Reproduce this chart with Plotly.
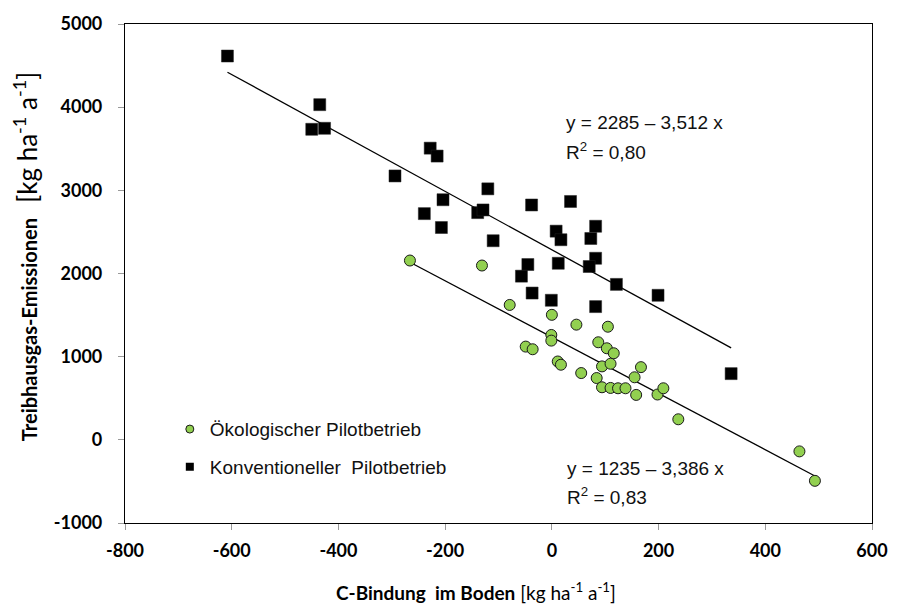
import plotly.graph_objects as go

# ---- data ----
oeko_x = [-266, -131, -79, 0, 46, 105, -49, -36, -1, -1, 87, 103, 116, 11, 17,
          55, 94, 110, 167, 155, 84, 94, 110, 124, 138, 158, 198, 209, 237, 464, 493]
oeko_y = [2156, 2096, 1622, 1503, 1385, 1360, 1121, 1089, 1261, 1193, 1173, 1101, 1041, 942, 903,
          803, 883, 915, 874, 752, 743, 632, 624, 620, 620, 540, 545, 620, 247, -139, -493]

konv_x = [-608, -435, -450, -426, -294, -228, -215, -204, -239, -207,
          -120, -139, -129, -38, 35, -110, 8, 17, 82, 73, 82, 70, -45, -57, 12,
          121, 199, -37, -1, 82, 336]
konv_y = [4615, 4030, 3734, 3746, 3173, 3507, 3412, 2887, 2720, 2553,
          3018, 2732, 2764, 2824, 2866, 2394, 2509, 2406, 2568, 2421, 2183, 2084, 2108, 1968, 2123,
          1869, 1738, 1765, 1678, 1602, 796]

# regression coefficients as printed on the chart (intercept, slope)
oeko_fit = (1235, -3.386)
konv_fit = (2285, -3.512)

series_names = ["Ökologischer Pilotbetrieb", "Konventioneller  Pilotbetrieb"]
eq_texts = [["y = 2285 – 3,512 x", "R<sup>2</sup> = 0,80"],
            ["y = 1235 – 3,386 x", "R<sup>2</sup> = 0,83"]]

x_ticks = [-800, -600, -400, -200, 0, 200, 400, 600]
y_ticks = [-1000, 0, 1000, 2000, 3000, 4000, 5000]

GREEN = "#92D050"
TXT = "Liberation Sans, Arial, sans-serif"
BOLDF = "Liberation Sans Narrow, Arial Narrow, Lato, sans-serif"

fig = go.Figure()

def fit_line(xs, coef):
    xa, xb = min(xs), max(xs)
    return [xa, xb], [coef[0] + coef[1] * xa, coef[0] + coef[1] * xb]

for xs, coef in [(konv_x, konv_fit), (oeko_x, oeko_fit)]:
    lx, ly = fit_line(xs, coef)
    fig.add_trace(go.Scatter(x=lx, y=ly, mode="lines", line=dict(color="black", width=1.3),
                             showlegend=False, hoverinfo="skip"))

fig.add_trace(go.Scatter(x=konv_x, y=konv_y, mode="markers", showlegend=False,
                         marker=dict(symbol="square", size=12, color="black",
                                     line=dict(color="#222", width=0.5))))
fig.add_trace(go.Scatter(x=oeko_x, y=oeko_y, mode="markers", showlegend=False,
                         marker=dict(symbol="circle", size=11, color=GREEN,
                                     line=dict(color="#1a1a1a", width=1))))

# legend entries (small markers)
fig.add_trace(go.Scatter(x=[None], y=[None], mode="markers", name=series_names[0], legendgroup="a",
                         marker=dict(symbol="circle", size=8, color=GREEN,
                                     line=dict(color="#1a1a1a", width=1))))
fig.add_trace(go.Scatter(x=[None], y=[None], mode="markers", name=series_names[1], legendgroup="b",
                         marker=dict(symbol="square", size=8, color="black")))

# equation annotations
eq_pos = [(22, 3820, 3474), (24, -346, -680)]
for (ex, ey1, ey2), (t1, t2) in zip(eq_pos, eq_texts):
    fig.add_annotation(x=ex, y=ey1, text=t1, showarrow=False, xanchor="left", yanchor="middle",
                       font=dict(family=TXT, size=19, color="#111"))
    fig.add_annotation(x=ex, y=ey2, text=t2, showarrow=False, xanchor="left", yanchor="middle",
                       font=dict(family=TXT, size=19, color="#111"))

# axis titles
fig.add_annotation(xref="paper", yref="paper", x=0.47, y=-0.138, yanchor="middle", xanchor="center",
                   showarrow=False,
                   text="<b>C-Bindung  im Boden</b> [kg ha<sup>-1</sup> a<sup>-1</sup>]",
                   font=dict(family="Lato, sans-serif", size=19, color="black"))
fig.add_annotation(xref="paper", yref="paper", x=-0.133, y=0.534, textangle=-90,
                   xanchor="center", yanchor="middle", showarrow=False,
                   text=("<b>Treibhausgas-Emissionen</b>   "
                         "<span style='font-size:26px'>[kg ha<sup>-1</sup> a<sup>-1</sup>]</span>"),
                   font=dict(family="Lato, sans-serif", size=20, color="black"))

axis_common = dict(showgrid=False, zeroline=False, showline=True, linecolor="black", linewidth=1.2,
                   mirror=True, ticks="outside", ticklen=6, tickcolor="#999", tickwidth=1,
                   tickfont=dict(family=BOLDF, size=18, color="black", weight="bold"))

fig.update_xaxes(range=[-800, 600], tickvals=x_ticks, ticktext=[str(v) for v in x_ticks],
                 ticklabelstandoff=5, **axis_common)
fig.update_yaxes(range=[-1000, 5000], tickvals=y_ticks, ticktext=[str(v) for v in y_ticks],
                 ticklabelstandoff=12, **axis_common)

fig.update_layout(
    width=900, height=612,
    margin=dict(l=125, r=21, t=20, b=89),
    plot_bgcolor="white", paper_bgcolor="white",
    legend=dict(x=0.06, y=0.226, xanchor="left", yanchor="top", bgcolor="rgba(0,0,0,0)",
                font=dict(family=TXT, size=19, color="#111"), tracegroupgap=10,
                traceorder="grouped"),
)

fig.write_html("out.html")
